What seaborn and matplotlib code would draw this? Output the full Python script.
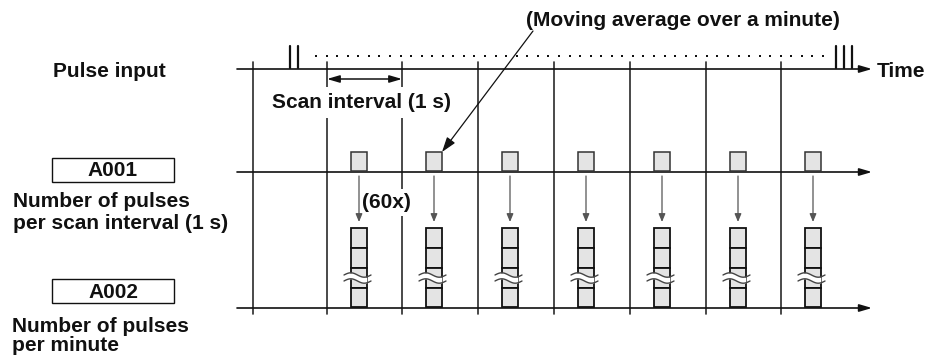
import numpy as np
import matplotlib
matplotlib.use("Agg")
import matplotlib.pyplot as plt
from matplotlib.patches import Rectangle
import seaborn as sns

sns.set_style("white")
plt.rcParams["font.family"] = ["Liberation Sans", "DejaVu Sans"]

# texts of the diagram
pulse_label = "Pulse input"
time_label = "Time"
scan_label = "Scan interval (1 s)"
avg_label = "(Moving average over a minute)"
count_label = "(60x)"
ch_names = ["A001", "A002"]
ch_desc = [["Number of pulses", "per scan interval (1 s)"], ["Number of pulses", "per minute"]]
n_slots = 7          # scan intervals drawn
n_stack = 4          # boxes drawn in each 60x stack

# layout (pixels, y downward)
W, H = 931, 357
row_y = [69, 172, 308]           # pulse, A001, A002 time lines
x0, x1 = 237, 872
grid_x = [253, 327, 402, 478, 554, 630, 706, 781]
slot_x = [g + 32 for g in grid_x[1:1 + n_slots]]
fs = 15
ink = "#111111"
fill = "#e4e4e4"

fig = plt.figure(figsize=(W / 100, H / 100), dpi=100)
ax = fig.add_axes([0, 0, 1, 1])
ax.set_xlim(0, W)
ax.set_ylim(H, 0)
ax.axis("off")

def arrow(p0, p1, style="-|>,head_length=0.75,head_width=0.22", lw=1.2, color=ink, ms=10, z=3):
    ax.annotate("", xy=p1, xytext=p0,
                arrowprops=dict(arrowstyle=style, lw=lw, color=color,
                                mutation_scale=ms, shrinkA=0, shrinkB=0),
                zorder=z)

def label(x, y, s, **kw):
    ax.text(x, y, s, fontsize=fs, fontweight="bold", ha=kw.pop("ha", "left"),
            va=kw.pop("va", "baseline"), color=ink, **kw)

# time axes
for y in row_y:
    arrow((x0, y), (x1, y))

# vertical scan grid
for g in grid_x:
    ax.plot([g, g], [62, 314], color="#2a2a2a", lw=1.2, zorder=1)

# pulse marks and dots
for px in [290, 298]:
    ax.plot([px, px], [46, 68], color=ink, lw=1.6, zorder=2)
for px in [836, 844, 852]:
    ax.plot([px, px], [46, 68], color=ink, lw=1.6, zorder=2)
dots = np.linspace(316, 823, 49)
ax.scatter(dots, np.full_like(dots, 56), s=2.5, marker="s", color=ink, lw=0, zorder=2)

# scan interval
arrow((327, 79), (402, 79), style="<|-|>,head_length=0.75,head_width=0.22", lw=1.1)
label(272, 108, scan_label, bbox=dict(fc="white", ec="none", pad=4.5), zorder=2)

# per-slot boxes, arrows and stacks
bw = 16
edges = [228, 248, 268, 288, 307]
for c in slot_x:
    ax.add_patch(Rectangle((c - bw / 2, 152), bw, 19, fc=fill, ec="#333333", lw=1.1, zorder=3))
    arrow((c, 176), (c, 222), style="-|>,head_length=0.6,head_width=0.25",
          lw=0.9, color="#555555", ms=8, z=5)
    for k in range(n_stack):
        ax.add_patch(Rectangle((c - bw / 2, edges[k]), bw, edges[k + 1] - edges[k],
                               fc=fill, ec=ink, lw=1.3, zorder=3))
    t = np.linspace(0, 1, 40)
    xs = c - 15 + 27 * t
    wave = -2.2 * np.sin(2 * np.pi * t)
    ax.fill_between(xs[6:34], 275 + wave[6:34], 281 + wave[6:34], color="white", lw=0, zorder=4)
    ax.plot(xs, 275 + wave, color="#444444", lw=1.0, zorder=4)
    ax.plot(xs, 281 + wave, color="#444444", lw=1.0, zorder=4)

label(362, 208, count_label, bbox=dict(fc="white", ec="none", pad=2.5), zorder=2)

# moving average pointer
label(526, 26, avg_label, zorder=3)
arrow((533, 31), (442, 152), style="-|>,head_length=0.9,head_width=0.3", lw=0.9, ms=10)

# left labels
label(53, 77, pulse_label)
label(877, 77, time_label)

box_y = [158, 279]
name_y = [176, 298]
desc_y = [[207, 229], [332, 351]]
desc_x = [13, 12]
for name, desc, by, ny, dy, dx in zip(ch_names, ch_desc, box_y, name_y, desc_y, desc_x):
    ax.add_patch(Rectangle((52, by), 122, 24, fc="white", ec=ink, lw=1.0))
    label(113, ny, name, ha="center")
    for line, yy in zip(desc, dy):
        label(dx, yy, line)

fig.savefig("out.png", dpi=100)
